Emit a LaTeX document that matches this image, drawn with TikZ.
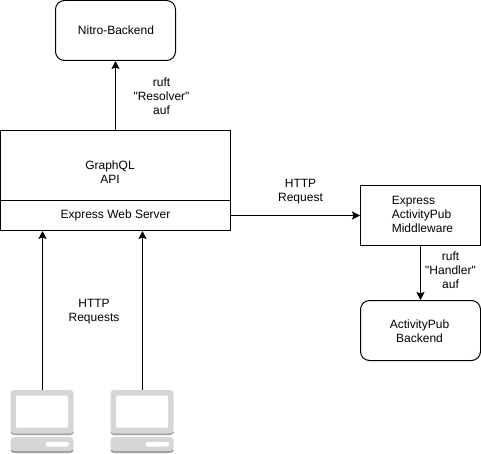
\documentclass[tikz,border=0pt]{standalone}
\usepackage{fontspec}
\setmainfont{Liberation Sans}[Ligatures=TeXOff]
\usetikzlibrary{arrows.meta}
\definecolor{pcgray}{HTML}{D5D7D6}
\definecolor{pcdark}{HTML}{9B9C9B}
\tikzset{
  box/.style={draw,line width=1pt,minimum width=120pt,minimum height=60pt,inner sep=0pt,align=center,font=\fontsize{12}{14}\selectfont},
  roundbox/.style={box,rounded corners=9pt},
  apibox/.style={box,minimum width=230pt},
  label/.style={align=center,inner sep=0pt,font=\fontsize{12}{14}\selectfont},
  conn/.style={line width=1pt,-{Stealth[length=8pt,width=8pt,inset=1.5pt]}},
  client/.style={minimum width=63pt,minimum height=63pt,inner sep=0pt},
  pcgraybox/.style={fill=pcgray,rounded corners=3.5pt}
}
\newcommand{\drawclient}[1]{
\begin{scope}[shift={(#1)}]
\fill[pcdark,rounded corners=3.5pt] (0,40) rectangle (63,45);
\fill[pcdark,rounded corners=3.5pt] (0,58) rectangle (63,63);
\fill[pcgraybox] (0,0) rectangle (63,43.5);
\fill[white,rounded corners=1pt] (5.5,5.5) rectangle (57.5,37.5);
\fill[pcgraybox] (0,47) rectangle (63,61);
\fill[white,rounded corners=2pt] (35,52) rectangle (58.5,56.5);
\end{scope}
}
\begin{document}
\begin{tikzpicture}[x=1pt,y=-1pt]
\useasboundingbox (0,0) rectangle (481,454);
% clients
\drawclient{10.5,390}
\drawclient{110.5,390}
\node[client] (clientA) at (42.5,421.5) {};
\node[client] (clientB) at (142.5,421.5) {};
% boxes
\node[roundbox] (nitro) at (115.5,30.5) {\hspace*{1pt}Nitro-Backend};
\node[apibox,minimum height=70pt] (graphql) at (115.5,165.5) {};
\node[apibox,minimum height=30pt] (express) at (115.5,215.5) {Express Web Server};
\node[box] (middleware) at (420.5,215.5) {\hspace*{4pt}\begin{tabular}{@{}l@{}}Express\\ActivityPub\\Middleware\end{tabular}};
\node[roundbox] (apbackend) at (420.5,330.5) {};
% connectors
\draw[conn] (graphql.north) -- (nitro.south);
\draw[conn] (express.east) -- (middleware.west);
\draw[conn] (middleware.south) -- (apbackend.north);
\draw[conn] (clientA.north) -- (clientA.north |- express.south);
\draw[conn] (clientB.north) -- (clientB.north |- express.south);
% labels
\node[label] (graphqltext) at (110,172) {GraphQL\\API};
\node[label] (backendtext) at (419.5,331) {ActivityPub\\Backend};
\node[label] (resolver) at (161.5,96.5) {ruft\\"Resolver"\\auf};
\node[label] (request) at (300.5,191.5) {HTTP\\Request};
\node[label] (handler) at (450.5,270.5) {ruft\\"Handler"\\auf};
\node[label] (requests) at (94,311.5) {HTTP\\Requests};
\end{tikzpicture}
\end{document}
